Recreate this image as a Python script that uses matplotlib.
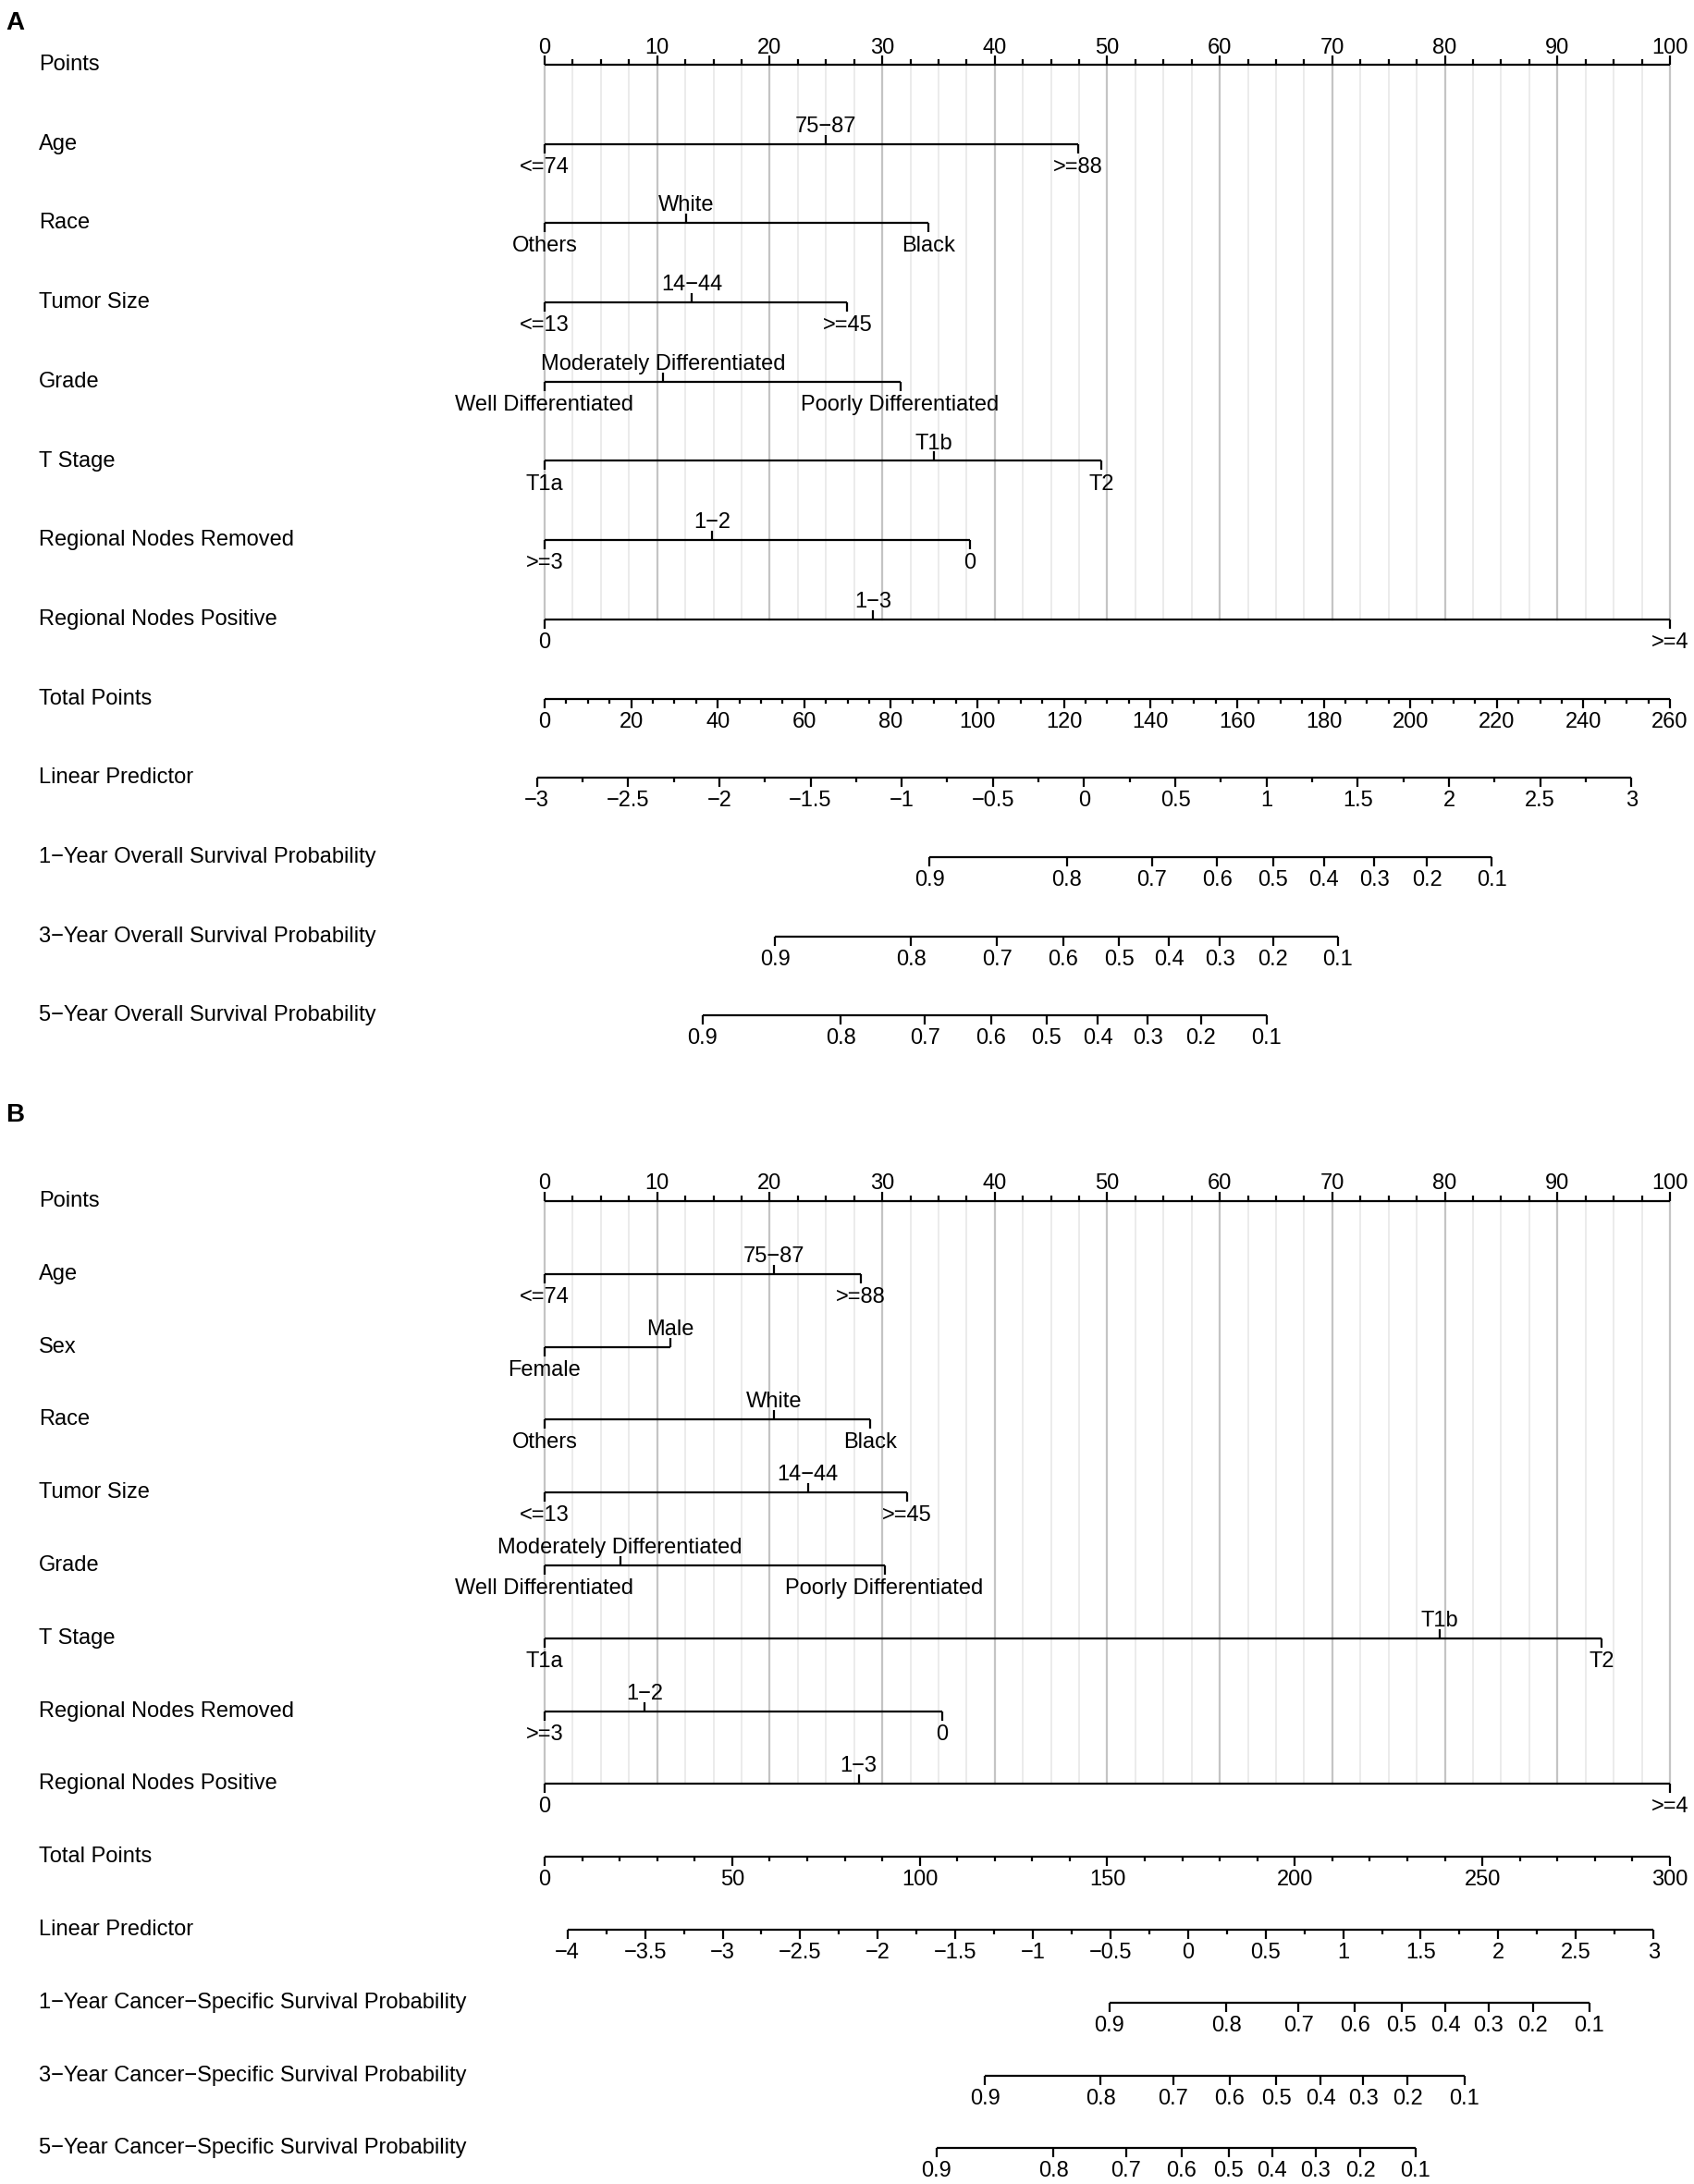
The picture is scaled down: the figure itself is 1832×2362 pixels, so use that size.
import numpy as np
import matplotlib
matplotlib.use("Agg")
import matplotlib.pyplot as plt

plt.rcParams['font.family'] = ['Liberation Sans', 'DejaVu Sans']

# ---- panel A: overall survival ----
a_rows = ['Points', 'Age', 'Race', 'Tumor Size', 'Grade', 'T Stage',
          'Regional Nodes Removed', 'Regional Nodes Positive', 'Total Points',
          'Linear Predictor', '1\u2212Year Overall Survival Probability',
          '3\u2212Year Overall Survival Probability',
          '5\u2212Year Overall Survival Probability']

a_age_lab = ['<=74', '75\u221287', '>=88']
a_age_pts = [0, 25.0, 47.4]
a_race_lab = ['Others', 'White', 'Black']
a_race_pts = [0, 12.6, 34.1]
a_size_lab = ['<=13', '14\u221244', '>=45']
a_size_pts = [0, 13.1, 26.9]
a_grade_lab = ['Well Differentiated', 'Moderately Differentiated', 'Poorly Differentiated']
a_grade_pts = [0, 10.5, 31.6]
a_t_lab = ['T1a', 'T1b', 'T2']
a_t_pts = [0, 34.6, 49.5]
a_rnr_lab = ['>=3', '1\u22122', '0']
a_rnr_pts = [0, 14.9, 37.8]
a_rnp_lab = ['0', '1\u22123', '>=4']
a_rnp_pts = [0, 29.2, 100]

a_tp_max = 260
a_lp_ticks = [-3, -2.5, -2, -1.5, -1, -0.5, 0, 0.5, 1, 1.5, 2, 2.5, 3]
a_lp_tp = [-1.8, 251.1]          # total points at lp = -3 and lp = 3

prob_lab = ['0.9', '0.8', '0.7', '0.6', '0.5', '0.4', '0.3', '0.2', '0.1']
a_os1_tp = [88.9, 120.6, 140.3, 155.4, 168.3, 180.0, 191.7, 203.9, 218.8]
a_os3_tp = [53.2, 84.7, 104.5, 119.8, 132.7, 144.3, 156.0, 168.3, 183.3]
a_os5_tp = [36.5, 68.4, 87.9, 103.1, 116.0, 127.8, 139.3, 151.6, 166.8]

# ---- panel B: cancer-specific survival ----
b_rows = ['Points', 'Age', 'Sex', 'Race', 'Tumor Size', 'Grade', 'T Stage',
          'Regional Nodes Removed', 'Regional Nodes Positive', 'Total Points',
          'Linear Predictor', '1\u2212Year Cancer\u2212Specific Survival Probability',
          '3\u2212Year Cancer\u2212Specific Survival Probability',
          '5\u2212Year Cancer\u2212Specific Survival Probability']

b_age_lab = ['<=74', '75\u221287', '>=88']
b_age_pts = [0, 20.4, 28.1]
b_sex_lab = ['Female', 'Male']
b_sex_pts = [0, 11.2]
b_race_lab = ['Others', 'White', 'Black']
b_race_pts = [0, 20.4, 28.9]
b_size_lab = ['<=13', '14\u221244', '>=45']
b_size_pts = [0, 23.4, 32.2]
b_grade_lab = ['Well Differentiated', 'Moderately Differentiated', 'Poorly Differentiated']
b_grade_pts = [0, 6.7, 30.2]
b_t_lab = ['T1a', 'T1b', 'T2']
b_t_pts = [0, 79.5, 93.9]
b_rnr_lab = ['>=3', '1\u22122', '0']
b_rnr_pts = [0, 8.9, 35.3]
b_rnp_lab = ['0', '1\u22123', '>=4']
b_rnp_pts = [0, 27.9, 100]

b_tp_max = 300
b_lp_ticks = [-4, -3.5, -3, -2.5, -2, -1.5, -1, -0.5, 0, 0.5, 1, 1.5, 2, 2.5, 3]
b_lp_tp = [6.1, 295.6]           # total points at lp = -4 and lp = 3

b_css1_tp = [150.5, 181.7, 201.0, 216.0, 228.5, 240.2, 251.6, 263.5, 278.5]
b_css3_tp = [117.4, 148.2, 167.6, 182.6, 195.1, 206.9, 218.2, 230.1, 245.2]
b_css5_tp = [104.4, 135.6, 155.0, 169.8, 182.3, 194.0, 205.5, 217.5, 232.1]

W, H = 1832, 2362
FS = 17
LW = 1.6

fig = plt.figure(figsize=(W / 100, H / 100), dpi=100)


def fmt(v):
    s = ('%g' % v)
    return s.replace('-', '\u2212')


def panel(top_px, bot_px, row0_px, row_step, rows, variables, tp_max, tp_major,
          tp_minor, lp_ticks, lp_tp, probs):
    ax = fig.add_axes([0, 1 - bot_px / H, 1, (bot_px - top_px) / H])
    ax.set_axis_off()
    x0, x100 = 589, 1806
    ppx = (x100 - x0) / 100
    ax.set_xlim(-x0 / ppx, (W - x0) / ppx)
    ax.set_ylim((bot_px - row0_px) / row_step, (top_px - row0_px) / row_step)

    def d(px):
        return px / row_step

    def hline(xa, xb, y):
        ax.plot([xa, xb], [y, y], color='black', lw=LW, solid_capstyle='butt', zorder=3)

    def tick(x, y, ln):
        ax.plot([x, x], [y, y + d(ln)], color='black', lw=LW, solid_capstyle='butt', zorder=3)

    def below(x, y, s):
        ax.text(x, y + d(31), s, ha='center', va='baseline', fontsize=FS)

    def above(x, y, s):
        ax.text(x, y - d(13), s, ha='center', va='baseline', fontsize=FS)

    # row labels
    for i, name in enumerate(rows):
        ax.text(42 / ppx - x0 / ppx, i + d(6), name, ha='left', va='baseline', fontsize=FS)

    # grid lines
    last = len(variables)
    for g in np.arange(0, 100.01, 2.5):
        major = abs(g % 10) < 1e-6
        ax.plot([g, g], [0 + d(1), last], color='#c4c4c4' if major else '#e6e6e6',
                lw=1.6 if major else 1.1, zorder=1)

    # points axis
    hline(0, 100, 0)
    for v in np.arange(0, 100.01, 2.5):
        major = abs(v % 10) < 1e-6
        tick(v, 0, -10 if major else -6)
        if major:
            above(v, d(0.5), '%d' % v)

    # variables
    for r, (labs, pts) in enumerate(variables, start=1):
        hline(min(pts), max(pts), r)
        for k, (lab, p) in enumerate(zip(labs, pts)):
            if k % 2 == 0:
                tick(p, r, 10)
                below(p, r, lab)
            else:
                tick(p, r, -10)
                above(p, r, lab)

    # total points
    r = last + 1
    sc = 100 / tp_max
    hline(0, 100, r)
    for v in np.arange(0, tp_max + 0.01, tp_minor):
        major = abs(v % tp_major) < 1e-6
        tick(v * sc, r, 10 if major else 5)
        if major:
            below(v * sc, r, '%d' % v)

    # linear predictor
    r += 1
    lo, hi = lp_ticks[0], lp_ticks[-1]

    def lp_x(v):
        return (lp_tp[0] + (v - lo) * (lp_tp[1] - lp_tp[0]) / (hi - lo)) * sc

    hline(lp_x(lo), lp_x(hi), r)
    for v in np.arange(lo, hi + 0.01, 0.25):
        major = abs((v * 2) % 1) < 1e-6
        tick(lp_x(v), r, 10 if major else 5)
    for v in lp_ticks:
        below(lp_x(v), r, fmt(v))

    # survival probabilities
    for tps in probs:
        r += 1
        xs = [t * sc for t in tps]
        hline(min(xs), max(xs), r)
        for x, lab in zip(xs, prob_lab):
            tick(x, r, 10)
            below(x, r, lab)
    return ax


panel(0, 1180, 70, 85.7, a_rows,
      [(a_age_lab, a_age_pts), (a_race_lab, a_race_pts), (a_size_lab, a_size_pts),
       (a_grade_lab, a_grade_pts), (a_t_lab, a_t_pts), (a_rnr_lab, a_rnr_pts),
       (a_rnp_lab, a_rnp_pts)],
      a_tp_max, 20, 5, a_lp_ticks, a_lp_tp, [a_os1_tp, a_os3_tp, a_os5_tp])

panel(1180, H, 1299, 78.8, b_rows,
      [(b_age_lab, b_age_pts), (b_sex_lab, b_sex_pts), (b_race_lab, b_race_pts),
       (b_size_lab, b_size_pts), (b_grade_lab, b_grade_pts), (b_t_lab, b_t_pts),
       (b_rnr_lab, b_rnr_pts), (b_rnp_lab, b_rnp_pts)],
      b_tp_max, 50, 10, b_lp_ticks, b_lp_tp, [b_css1_tp, b_css3_tp, b_css5_tp])

fig.text(6 / W, 1 - 12 / H, 'A', ha='left', va='top', fontsize=20, fontweight='bold')
fig.text(6 / W, 1 - 1193 / H, 'B', ha='left', va='top', fontsize=20, fontweight='bold')

fig.savefig('out.png', dpi=100, facecolor='white')
